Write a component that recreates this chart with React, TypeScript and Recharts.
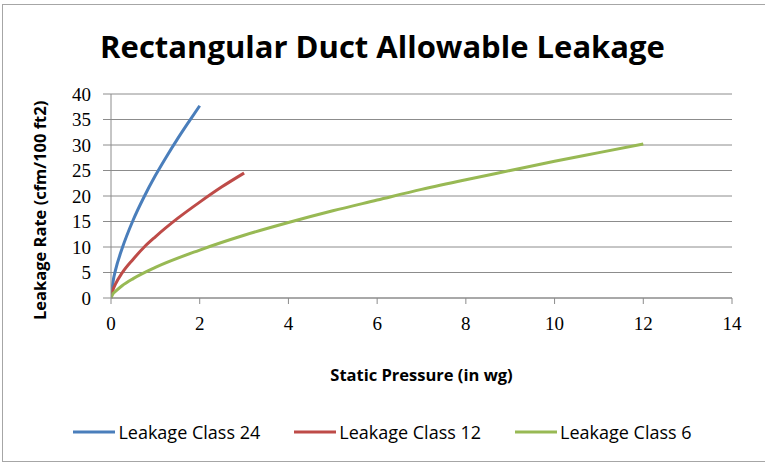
import React from "react";
import { CartesianGrid, Legend, Line, LineChart, XAxis, YAxis } from "recharts";

// static pressure (in wg) and leakage rate (cfm/100 ft2)
const class24X = [0, 0.05, 0.1, 0.25, 0.5, 0.75, 1, 1.25, 1.5, 1.75, 2];
const class24Y = [0, 3.4, 5.4, 9.7, 15.3, 19.9, 24, 27.7, 31.2, 34.5, 37.7];

const class12X = [0, 0.05, 0.1, 0.25, 0.5, 0.75, 1, 1.5, 2, 2.5, 3];
const class12Y = [0, 1.7, 2.7, 4.9, 7.6, 10.0, 12, 15.6, 18.8, 21.8, 24.5];

const class6X = [0, 0.05, 0.1, 0.25, 0.5, 1, 2, 3, 4, 5, 6, 7, 8, 9, 10, 11, 12];
const class6Y = [0, 0.9, 1.3, 2.4, 3.8, 6, 9.4, 12.3, 14.8, 17.1, 19.2, 21.3, 23.2, 25.0, 26.8, 28.5, 30.2];

const xTicks = [0, 2, 4, 6, 8, 10, 12, 14];
const yTicks = [0, 5, 10, 15, 20, 25, 30, 35, 40];

const toPoints = (xs: number[], ys: number[]) => xs.map((x, i) => ({ x, y: ys[i] }));

const series = [
  { name: "Leakage Class 24", color: "#4A7EBB", data: toPoints(class24X, class24Y) },
  { name: "Leakage Class 12", color: "#BE4B48", data: toPoints(class12X, class12Y) },
  { name: "Leakage Class 6", color: "#98B954", data: toPoints(class6X, class6Y) },
];

const sans = "'Open Sans', 'Noto Sans', sans-serif";
const serif = "'Liberation Serif', 'DejaVu Serif', serif";

// keep the legend in series order (recharts reorders the payload)
function LegendContent() {
  return (
    <div style={{ display: "flex", justifyContent: "center", gap: 34, fontFamily: sans, fontSize: 18 }}>
      {series.map((s) => (
        <div key={s.name} style={{ display: "flex", alignItems: "center" }}>
          <svg width={42} height={6} style={{ marginRight: 3 }}>
            <line x1={0} y1={3} x2={42} y2={3} stroke={s.color} strokeWidth={3} />
          </svg>
          <span style={{ color: "#000" }}>{s.name}</span>
        </div>
      ))}
    </div>
  );
}

export default function App() {
  return (
    <div style={{ position: "absolute", left: 0, top: 0, width: 765, height: 464, background: "#fff" }}>
      <div
        style={{
          position: "absolute",
          left: 2,
          top: 4,
          width: 770,
          height: 458,
          border: "1px solid #a6a6a6",
          boxSizing: "border-box",
        }}
      />
      <div
        style={{
          position: "absolute",
          left: 0,
          top: 24,
          width: 765,
          textAlign: "center",
          fontFamily: sans,
          fontWeight: 700,
          fontSize: 31,
          lineHeight: "44px",
          color: "#000",
        }}
      >
        Rectangular Duct Allowable Leakage
      </div>
      <LineChart
        width={765}
        height={464}
        margin={{ top: 94, right: 33, left: 0, bottom: 136 }}
        style={{ position: "absolute", left: 0, top: 0 }}
      >
        <CartesianGrid vertical={false} stroke="#8c8c8c" strokeWidth={1} />
        <XAxis
          type="number"
          dataKey="x"
          domain={[0, 14]}
          ticks={xTicks}
          interval={0}
          allowDataOverflow
          height={30}
          tickSize={6}
          tickMargin={13}
          stroke="#8c8c8c"
          tick={{ fill: "#000", fontFamily: serif, fontSize: 19 }}
          label={{
            value: "Static Pressure (in wg)",
            position: "insideBottom",
            offset: -53,
            style: { fill: "#000", fontFamily: sans, fontWeight: 700, fontSize: 16.5 },
          }}
        />
        <YAxis
          type="number"
          domain={[0, 40]}
          ticks={yTicks}
          interval={0}
          width={111}
          tickSize={8}
          tickMargin={12}
          stroke="#8c8c8c"
          tick={{ fill: "#000", fontFamily: serif, fontSize: 19 }}
          label={{
            value: "Leakage Rate (cfm/100 ft2)",
            angle: -90,
            position: "insideLeft",
            offset: 40,
            dy: 124,
            style: { fill: "#000", fontFamily: sans, fontWeight: 700, fontSize: 16.5 },
          }}
        />
        <Legend
          layout="horizontal"
          verticalAlign="middle"
          align="center"
          content={<LegendContent />}
          wrapperStyle={{ position: "absolute", top: 420, left: 0, width: 765 }}
        />
        {series.map((s) => (
          <Line
            key={s.name}
            name={s.name}
            data={s.data}
            dataKey="y"
            type="monotone"
            stroke={s.color}
            strokeWidth={3}
            dot={false}
            activeDot={false}
            legendType="plainline"
            isAnimationActive={false}
          />
        ))}
      </LineChart>
    </div>
  );
}
